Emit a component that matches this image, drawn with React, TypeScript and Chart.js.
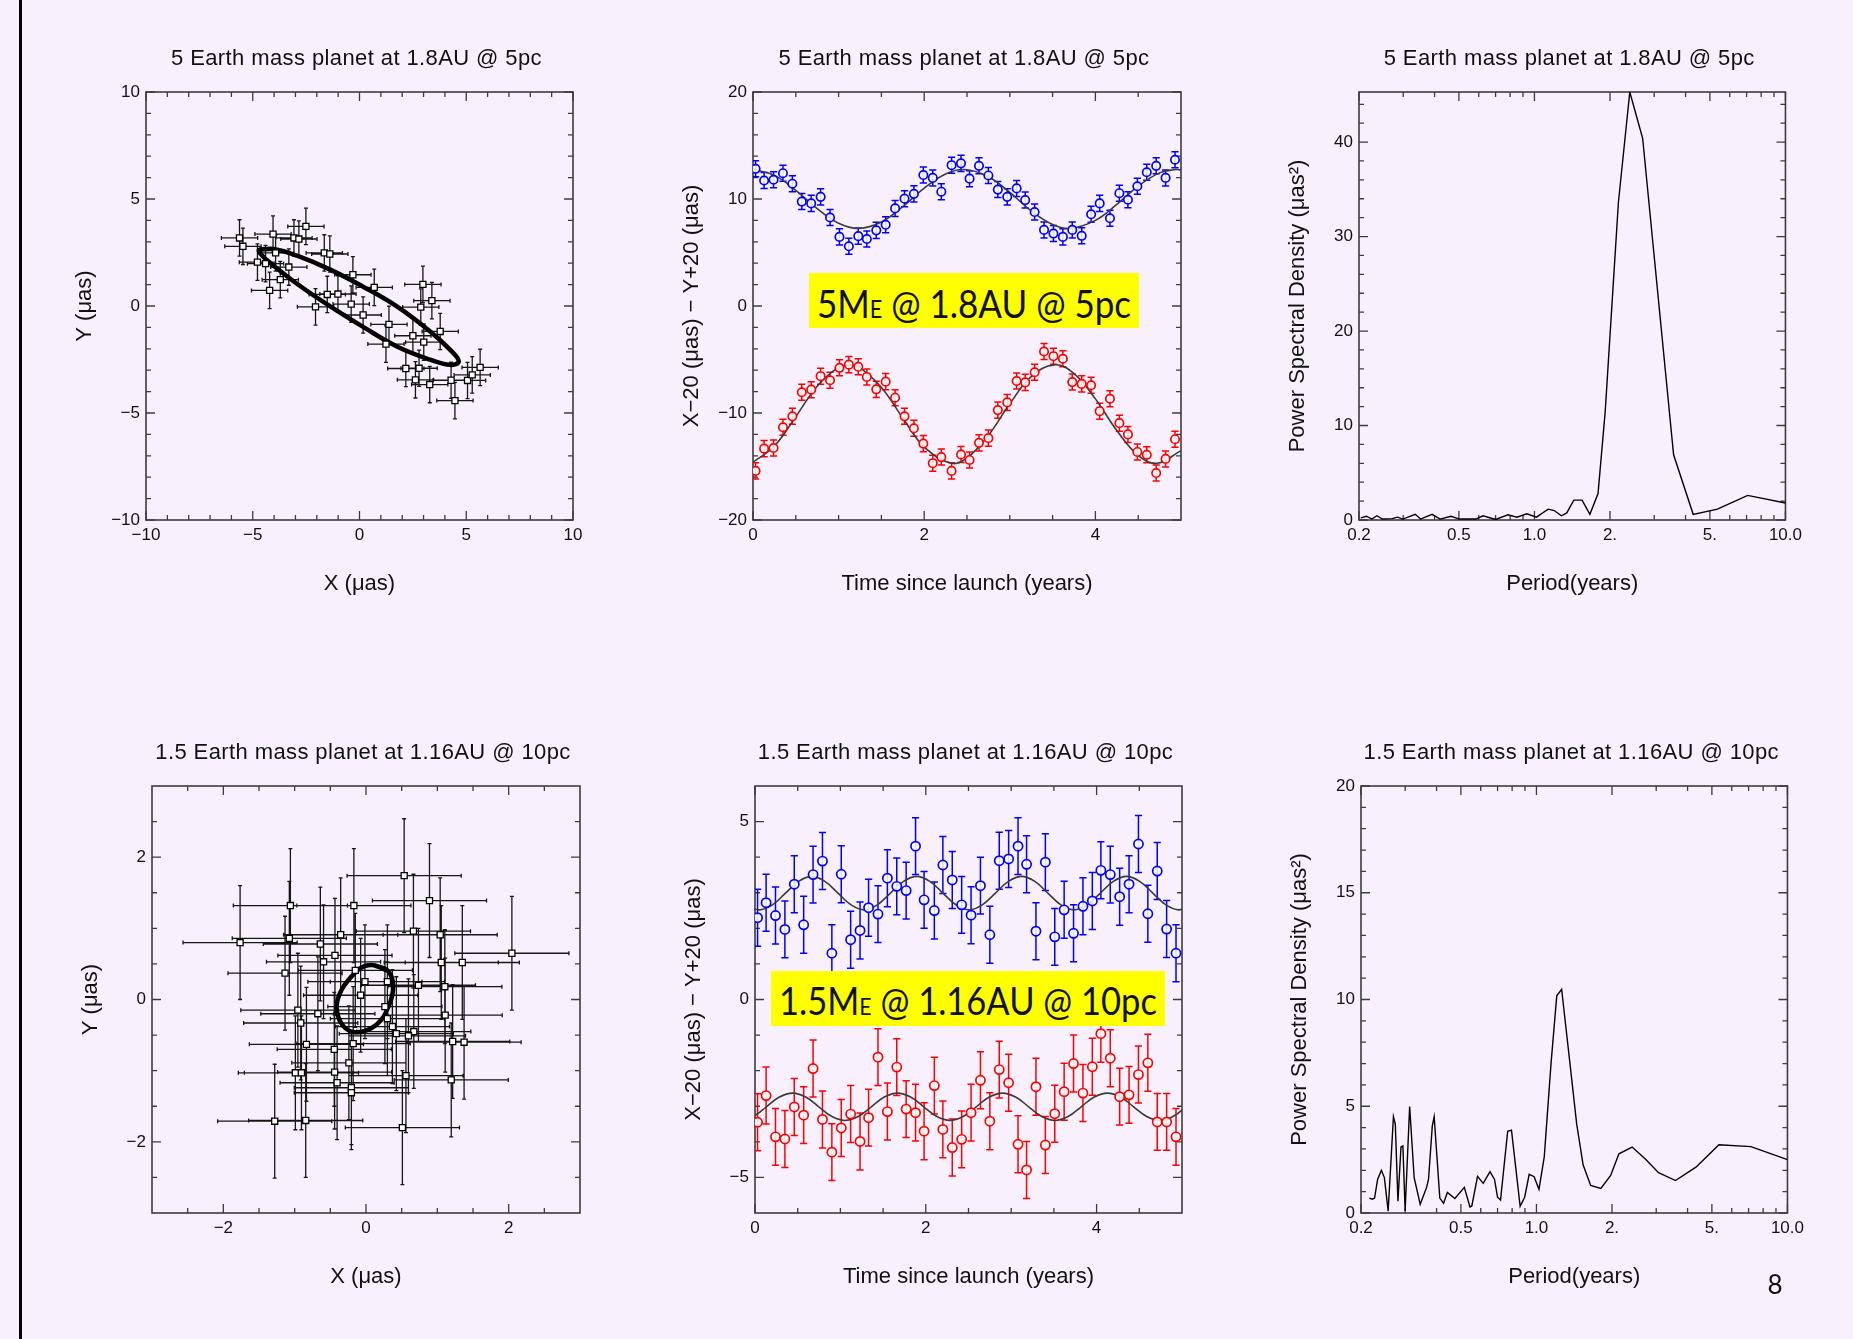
import React, { useEffect, useRef } from "react";
import { Chart, registerables } from "chart.js";

Chart.register(...registerables);

// ---------------------------------------------------------------- data
const topTitle = "5 Earth mass planet at 1.8AU @ 5pc";
const bottomTitle = "1.5 Earth mass planet at 1.16AU @ 10pc";

// Panel 1: sky-plane positions (5 M_E @ 1.8 AU @ 5 pc)
const p1X = [-5.62, -5.46, -4.78, -4.4, -4.05, -3.93, -3.71, -4.21, -3.31, -3.07, -2.84, -2.51, -1.65, -1.39, -1.51, -1.01, -2.06, -0.31, -0.39, 0.17, 0.69, 1.38, 1.24, 2.5, 3.01, 2.87, 2.97, 3.39, 3.78, 2.17, 2.79, 2.62, 3.29, 4.29, 4.47, 5.06, 5.28, 5.65];
const p1Y = [3.18, 2.79, 2.05, 1.98, 3.36, 2.48, 1.23, 0.73, 1.82, 3.18, 3.13, 3.72, 2.48, 2.43, 0.54, 0.56, -0.04, 1.46, 0.09, -0.42, 0.87, -0.86, -1.78, -1.39, -1.69, -0.05, 1.01, 0.25, -1.19, -2.92, -2.91, -3.45, -3.67, -3.47, -4.42, -3.48, -3.22, -2.87];
const p1Err = 0.85;
const p1OrbitX = [-4.7, -4.03, -2.93, -1.37, 0.19, 1.75, 3.31, 4.25, 4.65, 4.25, 3.31, 1.75, 0.19, -1.37, -2.93, -4.18, -4.6, -4.7, -4.03];
const p1OrbitY = [2.63, 2.66, 2.35, 1.7, 0.89, -0.02, -1.19, -2.05, -2.59, -2.75, -2.51, -1.89, -0.99, -0.02, 1.04, 2.01, 2.4, 2.63, 2.66];

// Panel 2: time series
const p2Time = [0.03, 0.13, 0.24, 0.35, 0.46, 0.57, 0.68, 0.79, 0.9, 1.01, 1.12, 1.23, 1.33, 1.44, 1.55, 1.66, 1.77, 1.88, 1.99, 2.1, 2.2, 2.32, 2.43, 2.53, 2.64, 2.75, 2.86, 2.97, 3.08, 3.18, 3.29, 3.4, 3.51, 3.62, 3.73, 3.84, 3.95, 4.05, 4.17, 4.28, 4.38, 4.49, 4.6, 4.71, 4.82, 4.93];
const p2Blue = [12.82, 11.73, 11.8, 12.41, 11.43, 9.76, 9.59, 10.2, 8.27, 6.46, 5.58, 6.53, 6.26, 7.07, 7.59, 9.12, 10.03, 10.48, 12.24, 11.97, 10.68, 13.16, 13.33, 11.9, 13.1, 12.2, 10.88, 10.2, 10.99, 9.9, 8.78, 7.11, 6.77, 6.46, 7.11, 6.56, 8.57, 9.59, 8.2, 10.54, 9.93, 11.19, 12.5, 13.1, 11.97, 13.67];
const p2Red = [-15.41, -13.33, -13.27, -11.33, -10.31, -8.06, -7.82, -6.56, -6.94, -5.78, -5.48, -5.68, -6.63, -7.79, -7.07, -8.57, -10.31, -11.43, -12.86, -14.69, -14.12, -15.41, -13.88, -14.39, -12.79, -12.35, -9.73, -9.01, -7.01, -7.14, -6.19, -4.25, -4.69, -4.93, -7.11, -7.28, -7.41, -9.83, -8.67, -10.95, -12.0, -13.64, -13.91, -15.61, -14.29, -12.45];
const p2Err = 0.75;
const p2BlueFitT = [0, 0.25, 0.5, 0.75, 1.0, 1.235, 1.5, 1.75, 2.0, 2.25, 2.47, 2.75, 3.0, 3.25, 3.5, 3.705, 4.0, 4.25, 4.5, 4.75, 4.94, 5.0];
const p2BlueFit = [12.75, 12.21, 10.81, 9.09, 7.73, 7.25, 7.85, 9.29, 11.01, 12.33, 12.75, 12.08, 10.61, 8.9, 7.62, 7.25, 8.0, 9.49, 11.2, 12.44, 12.75, 12.72];
const p2RedFitT = [0, 0.25, 0.5, 0.75, 1.0, 1.12, 1.25, 1.5, 1.75, 2.0, 2.32, 2.5, 2.75, 3.0, 3.25, 3.52, 3.75, 4.0, 4.25, 4.5, 4.72, 5.0];
const p2RedFit = [-14.6, -13.09, -10.34, -7.5, -5.72, -5.5, -5.78, -7.61, -10.46, -13.17, -14.7, -14.2, -12.08, -9.14, -6.6, -5.5, -6.31, -8.68, -11.64, -13.96, -14.7, -13.52];

// Panel 3: periodogram
const p3Period = [0.2033, 0.2142, 0.225, 0.2356, 0.248, 0.271, 0.2846, 0.299, 0.335, 0.352, 0.391, 0.421, 0.465, 0.504, 0.584, 0.624, 0.7, 0.784, 0.851, 0.933, 1.018, 1.134, 1.199, 1.28, 1.345, 1.435, 1.548, 1.663, 1.792, 1.914, 2.16, 2.398, 2.698, 3.584, 4.29, 5.358, 7.07, 10.0];
const p3Power = [0.23, 0.4, 0.1, 0.45, 0.1, 0.15, 0.3, 0.1, 0.6, 0.1, 0.6, 0.1, 0.4, 0.1, 0.1, 0.45, 0.05, 0.55, 0.3, 0.65, 0.3, 1.15, 1.0, 0.45, 0.75, 2.1, 2.1, 0.6, 2.8, 11.5, 33.6, 45.3, 40.4, 6.9, 0.6, 1.15, 2.6, 1.8];

// Panel 4: sky-plane positions (1.5 M_E @ 1.16 AU @ 10 pc)
const p4X = [-1.765, -1.06, -1.075, -1.135, -0.955, -0.915, -0.835, -0.99, -0.905, -1.28, -0.845, -0.64, -0.595, -0.675, -0.435, -0.355, -0.17, -0.445, -0.44, -0.405, -0.24, -0.205, -0.205, -0.18, -0.015, -0.075, 0.3, 0.265, 0.3, 0.37, 0.425, 0.535, 0.665, 0.89, 1.04, 1.055, 0.735, 1.105, 1.11, 0.67, 0.595, 1.35, 2.045, 1.215, 1.375, 0.56, 1.195, 0.51, -0.15];
const p4Y = [0.8, 1.32, 0.86, 0.37, -0.15, -0.33, -0.63, -1.03, -1.03, -1.71, -1.7, 0.78, 0.53, -0.2, 0.62, 0.91, 1.32, -0.7, -1.02, -1.17, -0.89, -1.24, -1.31, -0.62, 0.25, 0.06, 0.25, -0.1, -0.27, -0.38, -0.48, 1.74, 0.96, 1.39, 0.91, 0.52, 0.2, 0.18, -0.22, -0.45, -0.51, 0.52, 0.65, -0.59, -0.6, -1.07, -1.13, -1.8, 0.41];
const p4Err = 0.8;
const p4OrbitX = [0.12, 0.31, 0.38, 0.32, 0.15, -0.13, -0.32, -0.41, -0.34, -0.13, -0.02, 0.12, 0.31];
const p4OrbitY = [0.48, 0.4, 0.19, -0.09, -0.35, -0.46, -0.37, -0.12, 0.14, 0.4, 0.47, 0.48, 0.4];

// Panel 5: time series
const p5Time = [0.03, 0.13, 0.24, 0.35, 0.46, 0.57, 0.68, 0.79, 0.9, 1.01, 1.12, 1.23, 1.33, 1.44, 1.55, 1.66, 1.77, 1.88, 1.98, 2.1, 2.2, 2.31, 2.42, 2.53, 2.64, 2.75, 2.86, 2.97, 3.08, 3.18, 3.29, 3.4, 3.51, 3.62, 3.73, 3.84, 3.95, 4.05, 4.16, 4.27, 4.38, 4.49, 4.6, 4.71, 4.82, 4.93];
const p5Blue = [2.3, 2.72, 2.36, 1.97, 3.24, 2.1, 3.51, 3.89, 1.3, 3.52, 1.68, 1.94, 2.58, 2.4, 3.41, 3.18, 3.06, 4.31, 2.8, 2.5, 3.78, 3.36, 2.66, 2.37, 3.2, 1.82, 3.9, 3.95, 4.31, 3.8, 1.92, 3.86, 1.76, 2.52, 1.86, 2.62, 2.77, 3.63, 3.51, 2.89, 3.24, 4.37, 2.41, 3.61, 1.98, 1.3];
const p5Red = [-3.45, -2.7, -3.86, -3.92, -3.02, -3.25, -1.94, -3.37, -4.29, -3.61, -3.22, -3.99, -3.32, -1.62, -3.15, -1.9, -3.08, -3.18, -3.7, -2.42, -3.65, -4.16, -3.93, -3.18, -2.27, -3.42, -1.97, -2.34, -4.07, -4.79, -2.45, -4.09, -3.21, -2.59, -1.8, -2.63, -1.89, -0.96, -1.65, -2.73, -2.68, -2.11, -1.78, -3.44, -3.44, -3.86];
const p5Err = 0.8;
const p5BlueFitT = [-0.104, 0.05, 0.204, 0.357, 0.511, 0.664, 0.818, 0.972, 1.125, 1.279, 1.432, 1.586, 1.74, 1.893, 2.047, 2.2, 2.354, 2.508, 2.661, 2.815, 2.968, 3.122, 3.276, 3.429, 3.583, 3.736, 3.89, 4.044, 4.197, 4.351, 4.504, 4.658, 4.812, 4.965, 5.119];
const p5BlueFit = [2.66, 2.52, 2.66, 2.99, 3.32, 3.46, 3.32, 2.99, 2.66, 2.52, 2.66, 2.99, 3.32, 3.46, 3.32, 2.99, 2.66, 2.52, 2.66, 2.99, 3.32, 3.46, 3.32, 2.99, 2.66, 2.52, 2.66, 2.99, 3.32, 3.46, 3.32, 2.99, 2.66, 2.52, 2.66];
const p5RedFitT = [-0.175, -0.021, 0.133, 0.286, 0.44, 0.594, 0.747, 0.901, 1.054, 1.208, 1.362, 1.515, 1.669, 1.822, 1.976, 2.13, 2.283, 2.437, 2.59, 2.744, 2.898, 3.051, 3.205, 3.358, 3.512, 3.666, 3.819, 3.973, 4.126, 4.28, 4.434, 4.587, 4.741, 4.894, 5.048];
const p5RedFit = [-3.4, -3.29, -3.015, -2.74, -2.63, -2.74, -3.015, -3.29, -3.4, -3.29, -3.015, -2.74, -2.63, -2.74, -3.015, -3.29, -3.4, -3.29, -3.015, -2.74, -2.63, -2.74, -3.015, -3.29, -3.4, -3.29, -3.015, -2.74, -2.63, -2.74, -3.015, -3.29, -3.4, -3.29, -3.015];

// Panel 6: periodogram
const p6Period = [0.2158, 0.2219, 0.2265, 0.2329, 0.2411, 0.2478, 0.2566, 0.2693, 0.274, 0.2807, 0.2886, 0.2937, 0.2998, 0.3125, 0.3257, 0.3443, 0.3651, 0.3715, 0.3846, 0.3913, 0.4121, 0.4266, 0.4417, 0.4732, 0.516, 0.5434, 0.5529, 0.5825, 0.6136, 0.653, 0.6807, 0.6998, 0.7194, 0.768, 0.7953, 0.8611, 0.8975, 0.9356, 0.9786, 1.0235, 1.0745, 1.1435, 1.2047, 1.26, 1.3594, 1.4466, 1.5341, 1.6445, 1.8058, 1.9753, 2.131, 2.4056, 2.7154, 3.065, 3.581, 4.332, 5.332, 7.154, 10.0];
const p6Power = [0.7, 0.65, 0.7, 1.57, 2.0, 1.66, 0.09, 4.51, 4.16, 0.55, 3.09, 3.14, 0.09, 4.99, 1.66, 0.41, 1.2, 1.57, 4.07, 4.51, 0.7, 0.46, 0.96, 0.68, 1.2, 0.28, 0.33, 1.72, 1.39, 1.94, 1.57, 0.74, 0.61, 3.83, 3.88, 0.31, 0.74, 1.81, 1.7, 1.11, 2.64, 7.02, 10.17, 10.48, 7.02, 4.16, 2.26, 1.29, 1.15, 1.76, 2.77, 3.09, 2.53, 1.89, 1.52, 2.16, 3.2, 3.11, 2.5];

// Ticks and tick labels
const ticksTen = [-10, -5, 0, 5, 10];
const labelsTen = ["\u221210", "\u22125", "0", "5", "10"];
const minorTen = [-9, -8, -7, -6, -4, -3, -2, -1, 1, 2, 3, 4, 6, 7, 8, 9];
const ticksTime = [0, 2, 4];
const labelsTime = ["0", "2", "4"];
const minorTime = [0.5, 1, 1.5, 2.5, 3, 3.5, 4.5];
const ticksTwenty = [-20, -10, 0, 10, 20];
const labelsTwenty = ["\u221220", "\u221210", "0", "10", "20"];
const minorTwenty = [-18, -16, -14, -12, -8, -6, -4, -2, 2, 4, 6, 8, 12, 14, 16, 18];
const ticksPeriod = [0.2, 0.5, 1, 2, 5, 10];
const labelsPeriod = ["0.2", "0.5", "1.0", "2.", "5.", "10.0"];
const minorPeriod = [0.3, 0.4, 0.6, 0.7, 0.8, 0.9, 3, 4, 6, 7, 8, 9];
const ticksPsd1 = [0, 10, 20, 30, 40];
const labelsPsd1 = ["0", "10", "20", "30", "40"];
const minorPsd1 = [2, 4, 6, 8, 12, 14, 16, 18, 22, 24, 26, 28, 32, 34, 36, 38, 42, 44];
const ticksThree = [-2, 0, 2];
const labelsThree = ["\u22122", "0", "2"];
const minorThree = [-2.5, -1.5, -1, -0.5, 0.5, 1, 1.5, 2.5];
const ticksSix = [-5, 0, 5];
const labelsSix = ["\u22125", "0", "5"];
const minorSix = [-4, -3, -2, -1, 1, 2, 3, 4];
const ticksPsd2 = [0, 5, 10, 15, 20];
const labelsPsd2 = ["0", "5", "10", "15", "20"];
const minorPsd2 = [1, 2, 3, 4, 6, 7, 8, 9, 11, 12, 13, 14, 16, 17, 18, 19];

// ---------------------------------------------------------------- styling
const FONT = '"Liberation Sans", Arial, Helvetica, sans-serif';
const BG = "#f8f1fd";
const TEXT = "#111111";
const AXIS = "#3c3c3c";
const BLUE = "rgb(0,0,255)";
const RED = "rgb(255,0,0)";
const PAD_L = 100;
const PAD_R = 20;
const PAD_T = 60;
const PAD_B = 90;

const pts = (xs: number[], ys: number[]) => xs.map((x, i) => ({ x, y: ys[i] }));

type AxisSpec = {
  type?: "linear" | "logarithmic";
  min: number;
  max: number;
  major: number[];
  labels: string[];
  minor: number[];
  title: string;
};
type PanelSpec = {
  left: number;
  top: number;
  w: number;
  h: number;
  title: string;
  x: AxisSpec;
  y: AxisSpec;
  datasets: any[];
};

function makeAxis(a: AxisSpec, isX: boolean) {
  return {
    type: a.type || "linear",
    position: isX ? "bottom" : "left",
    min: a.min,
    max: a.max,
    bounds: "data",
    afterFit: (s: any) => {
      if (isX) s.height = PAD_B;
      else s.width = PAD_L;
    },
    afterBuildTicks: (s: any) => {
      s.ticks = a.major.map((v) => ({ value: v }));
    },
    grid: { display: false, drawTicks: false },
    border: { display: false },
    ticks: {
      autoSkip: false,
      maxRotation: 0,
      minRotation: 0,
      padding: isX ? 5 : 6,
      color: TEXT,
      font: { family: FONT, size: 17 },
      callback: (_v: any, i: number) => a.labels[i],
    },
    title: {
      display: true,
      text: a.title,
      color: TEXT,
      font: { family: FONT, size: 22 },
      padding: isX ? { top: 0, bottom: 13 } : { top: 26, bottom: 0 },
    },
  };
}

function framePlugin(spec: PanelSpec) {
  return {
    id: "frameAndErrors",
    beforeDatasetsDraw(chart: any) {
      const { ctx, chartArea: a } = chart;
      const xs = chart.scales.x;
      const ys = chart.scales.y;
      ctx.save();
      // frame
      ctx.strokeStyle = AXIS;
      ctx.lineWidth = 1.6;
      ctx.strokeRect(a.left, a.top, a.right - a.left, a.bottom - a.top);
      ctx.lineWidth = 1.3;
      ctx.beginPath();
      const xt = (vals: number[], len: number) =>
        vals.forEach((v) => {
          const p = xs.getPixelForValue(v);
          ctx.moveTo(p, a.bottom);
          ctx.lineTo(p, a.bottom - len);
          ctx.moveTo(p, a.top);
          ctx.lineTo(p, a.top + len);
        });
      const yt = (vals: number[], len: number) =>
        vals.forEach((v) => {
          const p = ys.getPixelForValue(v);
          ctx.moveTo(a.left, p);
          ctx.lineTo(a.left + len, p);
          ctx.moveTo(a.right, p);
          ctx.lineTo(a.right - len, p);
        });
      xt(spec.x.major, 9);
      xt(spec.x.minor, 5);
      yt(spec.y.major, 9);
      yt(spec.y.minor, 5);
      ctx.stroke();

      // error bars
      ctx.beginPath();
      ctx.rect(a.left, a.top, a.right - a.left, a.bottom - a.top);
      ctx.clip();
      chart.data.datasets.forEach((ds: any) => {
        if (ds.errX === undefined && ds.errY === undefined) return;
        ctx.strokeStyle = ds.errColor;
        ctx.lineWidth = ds.errWidth;
        ctx.beginPath();
        ds.data.forEach((pt: any) => {
          const px = xs.getPixelForValue(pt.x);
          const py = ys.getPixelForValue(pt.y);
          const c = ds.cap;
          if (ds.errY !== undefined) {
            const y1 = ys.getPixelForValue(pt.y - ds.errY);
            const y2 = ys.getPixelForValue(pt.y + ds.errY);
            ctx.moveTo(px, y1);
            ctx.lineTo(px, y2);
            ctx.moveTo(px - c, y1);
            ctx.lineTo(px + c, y1);
            ctx.moveTo(px - c, y2);
            ctx.lineTo(px + c, y2);
          }
          if (ds.errX !== undefined) {
            const x1 = xs.getPixelForValue(pt.x - ds.errX);
            const x2 = xs.getPixelForValue(pt.x + ds.errX);
            ctx.moveTo(x1, py);
            ctx.lineTo(x2, py);
            ctx.moveTo(x1, py - c);
            ctx.lineTo(x1, py + c);
            ctx.moveTo(x2, py - c);
            ctx.lineTo(x2, py + c);
          }
        });
        ctx.stroke();
      });
      ctx.restore();
    },
    afterDraw(chart: any) {
      const { ctx, chartArea: a } = chart;
      ctx.save();
      ctx.font = `22px ${FONT}`;
      try {
        (ctx as any).letterSpacing = "0.4px";
      } catch (e) {
        /* ignore */
      }
      ctx.fillStyle = TEXT;
      ctx.textAlign = "center";
      ctx.textBaseline = "middle";
      ctx.fillText(spec.title, (a.left + a.right) / 2 - 3, a.top - 33);
      ctx.restore();
    },
  };
}

function buildConfig(spec: PanelSpec): any {
  return {
    type: "scatter",
    data: { datasets: spec.datasets },
    options: {
      animation: false,
      responsive: false,
      devicePixelRatio: 1,
      layout: { padding: { top: PAD_T, right: PAD_R, bottom: 0, left: 0 } },
      plugins: { legend: { display: false }, tooltip: { enabled: false } },
      events: [],
      scales: { x: makeAxis(spec.x, true), y: makeAxis(spec.y, false) },
    },
    plugins: [framePlugin(spec)],
  };
}

// ---------------------------------------------------------------- datasets
const squares = (xs: number[], ys: number[], err: number) => ({
  data: pts(xs, ys),
  pointStyle: "rect",
  pointRadius: 4.3,
  backgroundColor: "#ffffff",
  borderColor: "#000000",
  borderWidth: 1.3,
  errX: err,
  errY: err,
  errColor: "#161616",
  errWidth: 1.3,
  cap: 2,
  order: 0,
});
const orbit = (xs: number[], ys: number[]) => ({
  data: pts(xs, ys),
  showLine: true,
  borderColor: "#000000",
  borderWidth: 4.5,
  pointRadius: 0,
  tension: 0.4,
  order: 1,
});
const circles = (xs: number[], ys: number[], err: number, color: string, r: number) => ({
  data: pts(xs, ys),
  pointStyle: "circle",
  pointRadius: r,
  backgroundColor: "rgba(255,255,255,0.85)",
  borderColor: color,
  borderWidth: 1.7,
  errY: err,
  errColor: color,
  errWidth: 1.5,
  cap: 3.6,
  order: 0,
});
const fit = (xs: number[], ys: number[]) => ({
  data: pts(xs, ys),
  showLine: true,
  borderColor: "#3a3a3a",
  borderWidth: 1.6,
  pointRadius: 0,
  tension: 0.4,
  clip: 0,
  order: 1,
});
const psd = (xs: number[], ys: number[]) => ({
  data: pts(xs, ys),
  showLine: true,
  borderColor: "#000000",
  borderWidth: 1.4,
  pointRadius: 0,
  tension: 0,
  clip: 0,
});

const psdTitle = "Power Spectral Density (\u03bcas\u00b2)";
const tsTitle = "X\u221220 (\u03bcas) \u2212 Y+20 (\u03bcas)";

const panels: PanelSpec[] = [
  {
    left: 146, top: 92, w: 427, h: 428, title: topTitle,
    x: { min: -10, max: 10, major: ticksTen, labels: labelsTen, minor: minorTen, title: "X (\u03bcas)" },
    y: { min: -10, max: 10, major: ticksTen, labels: labelsTen, minor: minorTen, title: "Y (\u03bcas)" },
    datasets: [squares(p1X, p1Y, p1Err), orbit(p1OrbitX, p1OrbitY)],
  },
  {
    left: 753, top: 92, w: 428, h: 428, title: topTitle,
    x: { min: 0, max: 5, major: ticksTime, labels: labelsTime, minor: minorTime, title: "Time since launch (years)" },
    y: { min: -20, max: 20, major: ticksTwenty, labels: labelsTwenty, minor: minorTwenty, title: tsTitle },
    datasets: [
      circles(p2Time, p2Blue, p2Err, BLUE, 4.2),
      circles(p2Time, p2Red, p2Err, RED, 4.2),
      fit(p2BlueFitT, p2BlueFit),
      fit(p2RedFitT, p2RedFit),
    ],
  },
  {
    left: 1359, top: 92, w: 428, h: 428, title: topTitle,
    x: { type: "logarithmic", min: 0.2, max: 10, major: ticksPeriod, labels: labelsPeriod, minor: minorPeriod, title: "Period(years)" },
    y: { min: 0, max: 45.3, major: ticksPsd1, labels: labelsPsd1, minor: minorPsd1, title: psdTitle },
    datasets: [psd(p3Period, p3Power)],
  },
  {
    left: 152, top: 786, w: 428, h: 427, title: bottomTitle,
    x: { min: -3, max: 3, major: ticksThree, labels: labelsThree, minor: minorThree, title: "X (\u03bcas)" },
    y: { min: -3, max: 3, major: ticksThree, labels: labelsThree, minor: minorThree, title: "Y (\u03bcas)" },
    datasets: [squares(p4X, p4Y, p4Err), orbit(p4OrbitX, p4OrbitY)],
  },
  {
    left: 755, top: 786, w: 427, h: 427, title: bottomTitle,
    x: { min: 0, max: 5, major: ticksTime, labels: labelsTime, minor: minorTime, title: "Time since launch (years)" },
    y: { min: -6, max: 6, major: ticksSix, labels: labelsSix, minor: minorSix, title: tsTitle },
    datasets: [
      circles(p5Time, p5Blue, p5Err, BLUE, 4.6),
      circles(p5Time, p5Red, p5Err, RED, 4.6),
      fit(p5BlueFitT, p5BlueFit),
      fit(p5RedFitT, p5RedFit),
    ],
  },
  {
    left: 1361, top: 786, w: 428, h: 427, title: bottomTitle,
    x: { type: "logarithmic", min: 0.2, max: 10, major: ticksPeriod, labels: labelsPeriod, minor: minorPeriod, title: "Period(years)" },
    y: { min: 0, max: 20, major: ticksPsd2, labels: labelsPsd2, minor: minorPsd2, title: psdTitle },
    datasets: [psd(p6Period, p6Power)],
  },
];

// ---------------------------------------------------------------- components
function PanelChart({ spec }: { spec: PanelSpec }) {
  const ref = useRef<HTMLCanvasElement | null>(null);
  const W = PAD_L + spec.w + PAD_R;
  const H = PAD_T + spec.h + PAD_B;
  useEffect(() => {
    if (!ref.current) return;
    const chart = new Chart(ref.current, buildConfig(spec));
    return () => chart.destroy();
  }, [spec]);
  return (
    <canvas
      ref={ref}
      width={W}
      height={H}
      style={{ position: "absolute", left: spec.left - PAD_L, top: spec.top - PAD_T, width: W, height: H }}
    />
  );
}

const boxFont = 'Lato, "Noto Sans", sans-serif';

function Badge({ left, top, width, height, pre, post, size }: any) {
  return (
    <div
      style={{
        position: "absolute",
        left,
        top,
        width,
        height,
        background: "#ffff00",
        display: "flex",
        alignItems: "center",
        justifyContent: "center",
        fontFamily: boxFont,
        fontSize: size,
        color: "#111",
        whiteSpace: "nowrap",
        zIndex: 2,
      }}
    >
      <span style={{ display: "inline-block", transform: "scale(1, 1.12)", marginTop: 2 }}>
        {pre}
        <span style={{ fontSize: "0.62em" }}>E</span>
        {post}
      </span>
    </div>
  );
}

export default function App() {
  return (
    <div
      style={{
        position: "absolute",
        left: 0,
        top: 0,
        width: 1853,
        height: 1339,
        background: BG,
        overflow: "hidden",
      }}
    >
      <div style={{ position: "absolute", left: 19, top: 0, width: 3, height: 1339, background: "#000" }} />
      {panels.map((p, i) => (
        <PanelChart key={i} spec={p} />
      ))}
      <Badge left={809} top={273} width={330} height={55} size={35} pre="5M" post=" @ 1.8AU @ 5pc" />
      <Badge left={771} top={971} width={394} height={55} size={34.5} pre="1.5M" post=" @ 1.16AU @ 10pc" />
      <div
        style={{
          position: "absolute",
          left: 1762,
          top: 1268,
          width: 26,
          textAlign: "center",
          fontFamily: boxFont,
          fontSize: 26,
          color: "#111",
        }}
      >
        8
      </div>
    </div>
  );
}
